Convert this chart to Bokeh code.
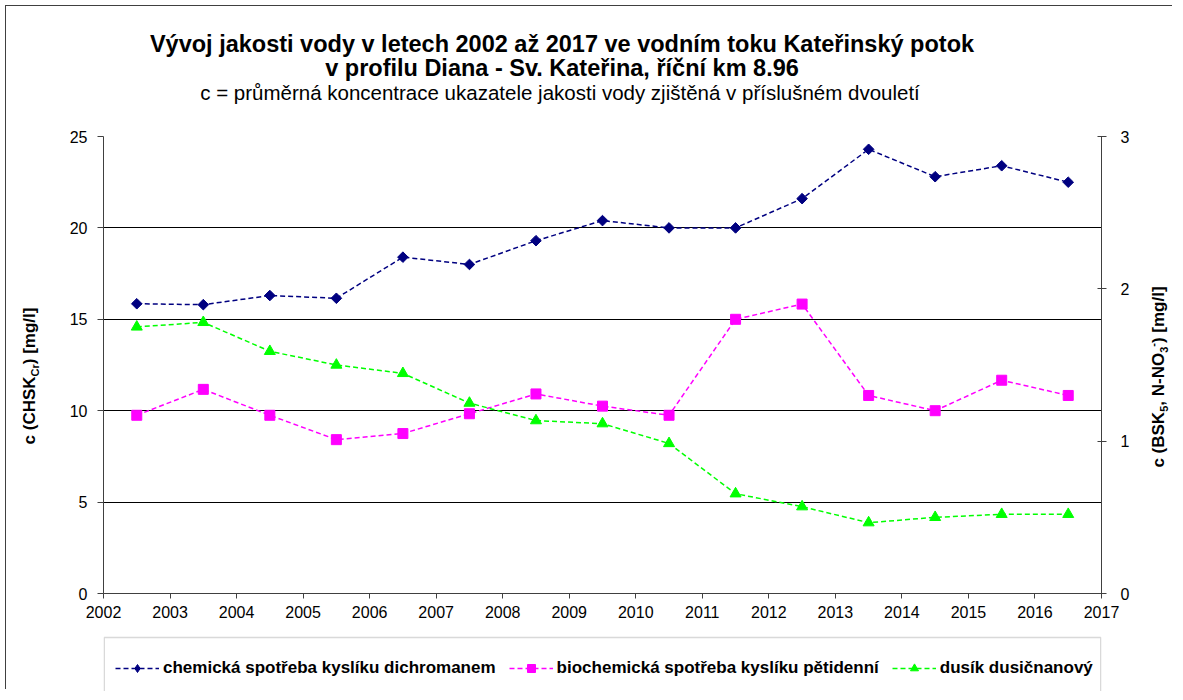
import numpy as np
from bokeh.plotting import figure
from bokeh.layouts import column, row
from bokeh.models import (Range1d, LinearAxis, FixedTicker, Legend, LegendItem,
                          BoxAnnotation, Div)
from bokeh.embed import file_html
from bokeh.resources import INLINE

# ---------------- data ----------------
years_mid = [2002.5, 2003.5, 2004.5, 2005.5, 2006.5, 2007.5, 2008.5, 2009.5,
             2010.5, 2011.5, 2012.5, 2013.5, 2014.5, 2015.5, 2016.5]
chsk = [15.85, 15.8, 16.3, 16.15, 18.4, 18.0, 19.3, 20.4,
        20.0, 20.0, 21.6, 24.3, 22.8, 23.4, 22.5]
bsk = [1.17, 1.34, 1.17, 1.01, 1.05, 1.18, 1.31, 1.23,
       1.17, 1.80, 1.90, 1.30, 1.20, 1.40, 1.30]
no3 = [1.75, 1.78, 1.59, 1.50, 1.445, 1.25, 1.135, 1.115,
       0.985, 0.655, 0.57, 0.465, 0.50, 0.52, 0.52]
x_ticks = [2002, 2003, 2004, 2005, 2006, 2007, 2008, 2009, 2010, 2011,
           2012, 2013, 2014, 2015, 2016, 2017]
left_ticks = [0, 5, 10, 15, 20, 25]
right_ticks = [0, 1, 2, 3]

title_1 = "Vývoj jakosti vody v letech 2002 až 2017 ve vodním toku Kateřinský potok"
title_2 = "v profilu Diana - Sv. Kateřina, říční km 8.96"
subtitle = "c = průměrná koncentrace ukazatele jakosti vody zjištěná v příslušném dvouletí"
left_label_html = "c (CHSK<sub style=\"font-size:11px\">Cr</sub>) [mg/l]"
right_label_html = ("c (BSK<sub style=\"font-size:11px\">5</sub>, N-NO"
                    "<sub style=\"font-size:11px\">3</sub>"
                    "<sup style=\"font-size:11px\">-</sup>) [mg/l]")
legend_labels = ["chemická spotřeba kyslíku dichromanem",
                 "biochemická spotřeba kyslíku pětidenní",
                 "dusík dusičnanový"]

FONT = "Liberation Sans"
C_BLUE = "#000080"
C_MAG = "#FF00FF"
C_GREEN = "#00FF00"
BORDER = "#404040"
DASH = "5 3"

# ---------------- layout sizes (page has an 8px margin) ----------------
TOTAL_W = 1167
TOTAL_H = 684
TOP_H = 109
LEFT_W = 42
RIGHT_W = 35
FIG_W = TOTAL_W - LEFT_W - RIGHT_W      # 1090
FIG_H = 512
LEG_H = 60
ROW_H = FIG_H + LEG_H                   # 572
FRAME_W = 998

# ---------------- main figure ----------------
p = figure(width=FIG_W, height=FIG_H, x_range=Range1d(2002, 2017),
           y_range=Range1d(0, 25), output_backend="svg",
           toolbar_location=None, title=None,
           min_border_left=51, min_border_right=41,
           min_border_top=17, min_border_bottom=38)
p.background_fill_color = "white"
p.border_fill_color = "white"
p.outline_line_color = None
p.extra_y_ranges = {"r": Range1d(0, 3)}


def style_axis(ax, tick_in, tick_out, standoff):
    ax.major_tick_in = tick_in
    ax.major_tick_out = tick_out
    ax.minor_tick_in = 0
    ax.minor_tick_out = 0
    ax.axis_line_color = BORDER
    ax.major_tick_line_color = BORDER
    ax.major_label_text_font = FONT
    ax.major_label_text_font_size = "16px"
    ax.major_label_text_color = "black"
    ax.major_label_standoff = standoff


ya = p.yaxis[0]
ya.ticker = FixedTicker(ticks=left_ticks, minor_ticks=[])
style_axis(ya, 0, 6, 10)

xa = p.xaxis[0]
xa.ticker = FixedTicker(ticks=x_ticks, minor_ticks=[])
style_axis(xa, 0, 5, 7)

ra = LinearAxis(y_range_name="r", ticker=FixedTicker(ticks=right_ticks, minor_ticks=[]))
style_axis(ra, 4, 5, 14)
p.add_layout(ra, "right")

p.xgrid.visible = False
p.ygrid.ticker = FixedTicker(ticks=left_ticks)
p.ygrid.grid_line_color = "#000000"
p.ygrid.grid_line_width = 1

line_kw = dict(line_width=1.5, line_dash=DASH)
blue_kw = dict(marker="square", angle=np.pi / 4, size=7.5, fill_color=C_BLUE, line_color=C_BLUE)
blue_leg_kw = dict(marker="diamond", size=11, fill_color=C_BLUE, line_color=C_BLUE)
mag_kw = dict(marker="square", size=10, fill_color=C_MAG, line_color=C_MAG)
green_kw = dict(marker="triangle", size=11, fill_color=C_GREEN, line_color=C_GREEN)

p.line(years_mid, chsk, line_color=C_BLUE, **line_kw)
p.scatter(years_mid, chsk, **blue_kw)
p.line(years_mid, bsk, y_range_name="r", line_color=C_MAG, **line_kw)
p.scatter(years_mid, bsk, y_range_name="r", **mag_kw)
p.line(years_mid, no3, y_range_name="r", line_color=C_GREEN, **line_kw)
p.scatter(years_mid, no3, y_range_name="r", **green_kw)

# ---------------- legend strip (frame aligns with main frame; 1 unit = 1 px) ----------------
lf = figure(width=FIG_W, height=LEG_H, x_range=Range1d(0, FRAME_W),
            y_range=Range1d(0, LEG_H), output_backend="svg",
            toolbar_location=None, title=None,
            x_axis_type=None, y_axis_type=None,
            min_border_left=0, min_border_right=0,
            min_border_top=0, min_border_bottom=0)
lf.outline_line_color = None
lf.background_fill_color = "white"
lf.border_fill_color = "white"
lf.xgrid.visible = False
lf.ygrid.visible = False

# the series again, lying outside this strip's ranges (only their legend samples show)
g1l = lf.line(years_mid, chsk, line_color=C_BLUE, **line_kw)
g1s = lf.scatter(years_mid, chsk, **blue_leg_kw)
g2l = lf.line(years_mid, bsk, line_color=C_MAG, **line_kw)
g2s = lf.scatter(years_mid, bsk, **mag_kw)
g3l = lf.line(years_mid, no3, line_color=C_GREEN, **line_kw)
g3s = lf.scatter(years_mid, no3, **green_kw)

box = BoxAnnotation(left=0.75, right=FRAME_W - 0.75, top=LEG_H - 6, bottom=-30,
                    fill_alpha=0, line_color="#808080", line_width=1.5)
lf.add_layout(box)

legend = Legend(items=[LegendItem(label=legend_labels[0], renderers=[g1l, g1s]),
                       LegendItem(label=legend_labels[1], renderers=[g2l, g2s]),
                       LegendItem(label=legend_labels[2], renderers=[g3l, g3s])],
                orientation="horizontal", location=(12, 13))
legend.label_text_font = FONT
legend.label_text_font_size = "17px"
legend.label_text_font_style = "bold"
legend.label_text_color = "black"
legend.glyph_width = 44
legend.glyph_height = 20
legend.label_standoff = 4
legend.spacing = 13
legend.padding = 0
legend.margin = 0
legend.border_line_color = None
legend.background_fill_alpha = 0
lf.add_layout(legend)

# ---------------- texts as HTML blocks ----------------
txt = "font-family:'Liberation Sans';color:#000;white-space:nowrap;line-height:1;"
top_html = (
    f'<div style="position:relative;box-sizing:border-box;width:{TOTAL_W}px;height:{TOP_H}px;'
    f'overflow:visible;border-top:1px solid {BORDER};">'
    f'<div style="position:absolute;left:0;top:-1px;width:1px;height:{TOTAL_H}px;'
    f'background:{BORDER};z-index:10;"></div>'
    f'<div style="position:absolute;left:0;top:27px;width:1114px;text-align:center;{txt}'
    f'font-weight:bold;font-size:23.5px;">{title_1}</div>'
    f'<div style="position:absolute;left:0;top:51px;width:1114px;text-align:center;{txt}'
    f'font-weight:bold;font-size:23.5px;">{title_2}</div>'
    f'<div style="position:absolute;left:0;top:77px;width:1110px;text-align:center;{txt}'
    f'font-size:20.5px;">{subtitle}</div>'
    '</div>'
)
top_div = Div(text=top_html, width=TOTAL_W, height=TOP_H)

rot = "transform:translate(-50%,-50%) rotate(-90deg);"
left_html = (
    f'<div style="position:relative;width:{LEFT_W}px;height:{ROW_H}px;overflow:hidden;">'
    f'<div style="position:absolute;left:26px;top:251.5px;{rot}{txt}'
    f'font-weight:bold;font-size:17px;">{left_label_html}</div>'
    '</div>'
)
left_div = Div(text=left_html, width=LEFT_W, height=ROW_H)

right_html = (
    f'<div style="position:relative;width:{RIGHT_W}px;height:{ROW_H}px;overflow:hidden;">'
    f'<div style="position:absolute;left:12px;top:252.5px;{rot}{txt}'
    f'font-weight:bold;font-size:17px;">{right_label_html}</div>'
    '</div>'
)
right_div = Div(text=right_html, width=RIGHT_W, height=ROW_H)

layout = column(top_div, row(left_div, column(p, lf, spacing=0), right_div, spacing=0),
                spacing=0)

open("out.html", "w").write(file_html(layout, INLINE))
